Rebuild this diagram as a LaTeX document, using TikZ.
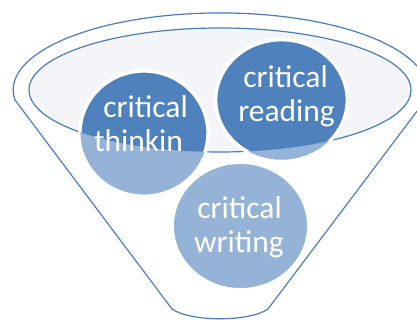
\documentclass[tikz,border=0pt]{standalone}
\usepackage{fontspec}
\setmainfont{Carlito}
\usetikzlibrary{shapes.geometric}
\definecolor{rim}{HTML}{4A7EBB}
\definecolor{deep}{HTML}{4F81BD}
\definecolor{pale}{HTML}{95B3D7}
\definecolor{mouth}{HTML}{F3F5F8}
\begin{document}
\begin{tikzpicture}[x=1pt,y=1pt,
  rimline/.style={draw=rim,line width=1.2pt,line join=round},
  bubble/.style={ellipse,fill=pale,draw=white,line width=2.4pt,inner sep=0pt},
  label/.style={anchor=base,text=white,inner sep=0pt,
    font=\fontsize{31.5}{34}\selectfont}]
\useasboundingbox (0,0) rectangle (417,320);
\clip (0,0) rectangle (417,320);

% funnel body: rim arc over the top, straight sides, rounded spout
\coordinate (lefttop) at (15,220);
\coordinate (righttop) at (425.2,220);
\coordinate (rightlow) at (268,11);
\coordinate (leftlow) at (172,11);
\draw[rimline] (lefttop)
  arc [start angle=187.5, end angle=-7.5, x radius=207pt, y radius=77pt]
  -- (rightlow) .. controls (250,-2) and (190,-2) .. (leftlow) -- cycle;

% funnel mouth
\coordinate (mouthc) at (220,230);
\path[fill=mouth] (mouthc) ellipse [x radius=191pt, y radius=62pt];
\draw[rim,line width=1.2pt] (mouthc) ellipse [x radius=191pt, y radius=62pt];

% the three bubbles
\node[bubble,minimum width=129.5pt,minimum height=125.5pt] (think) at (144,187) {};
\node[bubble,minimum width=133pt,minimum height=122pt] (read) at (281.5,220) {};
\node[bubble,minimum width=135.5pt,minimum height=126.5pt] (write) at (240.5,94) {};

% parts of the bubbles inside the mouth are darker
\begin{scope}
  \clip (mouthc) ellipse [x radius=191pt, y radius=62pt];
  \path[fill=deep,draw=white,line width=2.4pt] (think.center) ellipse [x radius=63.5pt, y radius=61.5pt];
  \path[fill=deep,draw=white,line width=2.4pt] (read.center) ellipse [x radius=65.3pt, y radius=59.8pt];
\end{scope}

% labels
\node[label] (thinkA) at (145.5,202) {critical};
\node[label] (thinkB) at (138.5,168) {thinkin};
\node[label] (readA) at (285.5,232) {critical};
\node[label] (readB) at (286.5,198) {reading};
\node[label] (writeA) at (239.5,101) {critical};
\node[label] (writeB) at (239,67) {writing};
\end{tikzpicture}
\end{document}
